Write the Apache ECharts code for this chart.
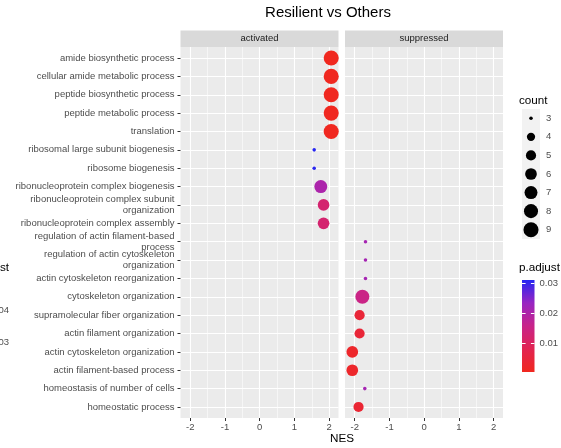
<!DOCTYPE html>
<html>
<head>
<meta charset="utf-8">
<script src="https://cdn.jsdelivr.net/npm/echarts@6/dist/echarts.min.js"></script>
<style>
  html, body { margin: 0; padding: 0; background: #ffffff; }
  #chart { width: 561px; height: 448px; }
</style>
</head>
<body>
<div id="chart"></div>
<script>
// GO terms, top to bottom
const terms = [
  'amide biosynthetic process',
  'cellular amide metabolic process',
  'peptide biosynthetic process',
  'peptide metabolic process',
  'translation',
  'ribosomal large subunit biogenesis',
  'ribosome biogenesis',
  'ribonucleoprotein complex biogenesis',
  'ribonucleoprotein complex subunit organization',
  'ribonucleoprotein complex assembly',
  'regulation of actin filament-based process',
  'regulation of actin cytoskeleton organization',
  'actin cytoskeleton reorganization',
  'cytoskeleton organization',
  'supramolecular fiber organization',
  'actin filament organization',
  'actin cytoskeleton organization',
  'actin filament-based process',
  'homeostasis of number of cells',
  'homeostatic process'
];
const termFacet = [
  'activated', 'activated', 'activated', 'activated', 'activated',
  'activated', 'activated', 'activated', 'activated', 'activated',
  'suppressed', 'suppressed', 'suppressed', 'suppressed', 'suppressed',
  'suppressed', 'suppressed', 'suppressed', 'suppressed', 'suppressed'
];
const nes = [
  2.06, 2.06, 2.06, 2.06, 2.06,
  1.57, 1.57, 1.76, 1.84, 1.84,
  -1.69, -1.69, -1.69, -1.78, -1.86,
  -1.86, -2.07, -2.07, -1.71, -1.89
];
const geneCount = [
  9, 9, 9, 9, 9,
  3, 3, 7, 6, 6,
  3, 3, 3, 8, 5,
  5, 6, 6, 3, 5
];
const pAdjust = [
  0.0002, 0.0003, 0.0003, 0.0004, 0.0004,
  0.0312, 0.0310, 0.0203, 0.0120, 0.0120,
  0.0213, 0.0213, 0.0213, 0.0152, 0.0040,
  0.0040, 0.0020, 0.0020, 0.0213, 0.0033
];

const facets = ['activated', 'suppressed'];
const nesTicks = [-2, -1, 0, 1, 2];
const nesMinorTicks = [-1.5, -0.5, 0.5, 1.5];
const nesRange = [-2.28, 2.27];
const countBreaks = [3, 4, 5, 6, 7, 8, 9];
const countRange = [3, 9];
const pAdjustBreaks = [0.01, 0.02, 0.03];
const pAdjustRange = [0.0002, 0.0312];
// low p.adjust -> high p.adjust
const pAdjustColors = ['#f0281f', '#e22451', '#c8248a', '#9826c2', '#2626f2'];

// ---- layout ----
const FONT = '"Liberation Sans", Arial, Helvetica, sans-serif';
const panelTop = 47, panelHeight = 371;
const panels = [{ left: 180.5, width: 158 }, { left: 345, width: 158 }];
const stripTop = 30.5, stripHeight = 16.5;
const rows = terms.map((t, i) => i + 1);

// area-scaled dot diameter for a gene count
function dotSize(c) {
  const t = (c - countRange[0]) / (countRange[1] - countRange[0]);
  return 2.3 * (1.33 + 5 * Math.sqrt(t)) + 0.5;
}

// greedy word wrap for long term names
function wrapLabel(s, width) {
  const words = s.split(' ');
  const lines = [];
  let cur = '';
  words.forEach(w => {
    if (cur && (cur + ' ' + w).length > width) { lines.push(cur); cur = w; }
    else { cur = cur ? cur + ' ' + w : w; }
  });
  lines.push(cur);
  return lines.join('\n');
}

// vertical gradient for the colour bar (top = high p.adjust)
const barGradient = new echarts.graphic.LinearGradient(0, 0, 0, 1,
  pAdjustColors.slice().reverse().map((c, i, a) => ({ offset: i / (a.length - 1), color: c })));

const grids = panels.map(p => ({
  left: p.left, top: panelTop, width: p.width, height: panelHeight,
  show: true, backgroundColor: '#ebebeb', borderWidth: 0
}));
// size legend keys
grids.push({ left: 522, top: 109, width: 18, height: 130, show: true, backgroundColor: '#f2f2f2', borderWidth: 0 });
// colour bar
grids.push({ left: 522, top: 280, width: 18, height: 92, show: true, backgroundColor: barGradient, borderWidth: 0 });

const noLine = { show: false, onZero: false };

const xAxes = [];
panels.forEach((p, i) => {
  xAxes.push({
    gridIndex: i, type: 'value', min: nesRange[0], max: nesRange[1],
    axisLine: noLine,
    axisTick: { show: true, customValues: nesTicks, length: 3, lineStyle: { color: '#333333', width: 1 } },
    axisLabel: { customValues: nesTicks, color: '#4d4d4d', fontSize: 9.5, fontFamily: FONT, margin: 4 },
    splitLine: { show: true, lineStyle: { color: '#ffffff', width: 1.1 } }
  });
  xAxes.push({
    gridIndex: i, type: 'value', position: 'top', min: nesRange[0], max: nesRange[1],
    axisLine: noLine,
    axisTick: { show: false, customValues: nesMinorTicks },
    axisLabel: { show: false },
    splitLine: { show: true, lineStyle: { color: '#ffffff', width: 0.55 } }
  });
});
xAxes.push({ gridIndex: 2, type: 'value', min: -1, max: 1, show: false, axisLine: noLine });
xAxes.push({ gridIndex: 3, type: 'value', min: 0, max: 1, show: false, axisLine: noLine });

const barTick = { show: true, inside: true, length: 3.6, customValues: pAdjustBreaks, lineStyle: { color: '#ffffff', width: 1 } };

const yAxes = [
  {
    gridIndex: 0, type: 'value', min: 0.4, max: 20.6, inverse: true,
    axisLine: noLine,
    axisTick: { show: true, customValues: rows, length: 3, lineStyle: { color: '#333333', width: 1 } },
    axisLabel: {
      customValues: rows, color: '#4d4d4d', fontSize: 9.5, fontFamily: FONT,
      lineHeight: 10.5, margin: 6, align: 'right',
      formatter: v => wrapLabel(terms[Math.round(v) - 1] || '', 40)
    },
    splitLine: { show: true, lineStyle: { color: '#ffffff', width: 1.1 } }
  },
  {
    gridIndex: 1, type: 'value', min: 0.4, max: 20.6, inverse: true,
    axisLine: noLine,
    axisTick: { show: false, customValues: rows },
    axisLabel: { show: false },
    splitLine: { show: true, lineStyle: { color: '#ffffff', width: 1.1 } }
  },
  {
    gridIndex: 2, type: 'category', data: countBreaks.map(String), inverse: true, position: 'right',
    axisLine: noLine, axisTick: { show: false },
    axisLabel: { color: '#4d4d4d', fontSize: 9.5, fontFamily: FONT, margin: 6 },
    splitLine: { show: false }
  },
  {
    gridIndex: 3, type: 'value', position: 'right', min: pAdjustRange[0], max: pAdjustRange[1],
    axisLine: noLine,
    axisTick: barTick,
    axisLabel: { customValues: pAdjustBreaks, color: '#4d4d4d', fontSize: 9.5, fontFamily: FONT, margin: 5,
      formatter: v => v.toFixed(2) },
    splitLine: { show: false }
  },
  {
    gridIndex: 3, type: 'value', position: 'left', min: pAdjustRange[0], max: pAdjustRange[1],
    axisLine: noLine,
    axisTick: barTick,
    axisLabel: { show: false },
    splitLine: { show: false }
  }
];

const series = facets.map((f, i) => ({
  type: 'scatter',
  xAxisIndex: i * 2, yAxisIndex: i,
  symbol: 'circle',
  symbolSize: v => dotSize(v[3]),
  itemStyle: { opacity: 1 },
  data: terms.map((t, k) => [nes[k], k + 1, pAdjust[k], geneCount[k], termFacet[k]])
             .filter(d => d[4] === f)
             .map(d => d.slice(0, 4)),
  silent: true
}));
series.push({
  type: 'scatter', xAxisIndex: 4, yAxisIndex: 2, symbol: 'circle',
  symbolSize: v => dotSize(v[2]),
  itemStyle: { color: '#000000', opacity: 1 },
  data: countBreaks.map((c, k) => [0, k, c]),
  silent: true
});

const graphics = [
  { type: 'text', style: { text: 'Resilient vs Others', x: 328, y: 13, font: '15px ' + FONT, fill: '#000000', textAlign: 'center', textVerticalAlign: 'middle' } },
  { type: 'text', style: { text: 'NES', x: 342, y: 439, font: '11.7px ' + FONT, fill: '#000000', textAlign: 'center', textVerticalAlign: 'middle' } },
  { type: 'text', style: { text: 'count', x: 519, y: 101, font: '11.7px ' + FONT, fill: '#000000', textAlign: 'left', textVerticalAlign: 'middle' } },
  { type: 'text', style: { text: 'p.adjust', x: 519, y: 268, font: '11.7px ' + FONT, fill: '#000000', textAlign: 'left', textVerticalAlign: 'middle' } },
  // neighbouring legend, clipped at the left edge
  { type: 'text', style: { text: 'p.adjust', x: 9, y: 268, font: '11.7px ' + FONT, fill: '#000000', textAlign: 'right', textVerticalAlign: 'middle' } },
  { type: 'text', style: { text: '0.004', x: 9, y: 310, font: '9.5px ' + FONT, fill: '#4d4d4d', textAlign: 'right', textVerticalAlign: 'middle' } },
  { type: 'text', style: { text: '0.003', x: 9, y: 342, font: '9.5px ' + FONT, fill: '#4d4d4d', textAlign: 'right', textVerticalAlign: 'middle' } }
];
facets.forEach((f, i) => {
  const p = panels[i];
  graphics.push({ type: 'rect', shape: { x: p.left, y: stripTop, width: p.width, height: stripHeight }, style: { fill: '#d9d9d9' } });
  graphics.push({ type: 'text', style: { text: f, x: p.left + p.width / 2, y: stripTop + stripHeight / 2, font: '9.5px ' + FONT, fill: '#1a1a1a', textAlign: 'center', textVerticalAlign: 'middle' } });
});

const chart = echarts.init(document.getElementById('chart'), null, { renderer: 'canvas' });
chart.setOption({
  animation: false,
  backgroundColor: '#ffffff',
  textStyle: { fontFamily: FONT },
  grid: grids,
  xAxis: xAxes,
  yAxis: yAxes,
  visualMap: {
    type: 'continuous',
    show: false,
    seriesIndex: [0, 1],
    dimension: 2,
    min: pAdjustRange[0], max: pAdjustRange[1],
    inRange: { color: pAdjustColors }
  },
  graphic: graphics,
  series: series
});
</script>
</body>
</html>
